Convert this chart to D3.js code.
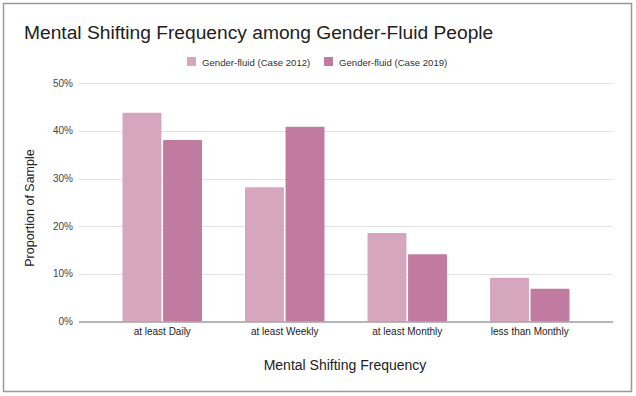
<!DOCTYPE html>
<html lang="en">
<head>
<meta charset="utf-8">
<title>Mental Shifting Frequency</title>
<script src="https://cdn.jsdelivr.net/npm/d3@7"></script>
<style>
	body { margin: 0; background: #fff; }
	svg text { font-family: Arial, "Liberation Sans", sans-serif; }
</style>
</head>
<body>
<div id="chart"></div>
<script>
// data
var categories = ["at least Daily", "at least Weekly", "at least Monthly", "less than Monthly"];
var seriesNames = ["Gender-fluid (Case 2012)", "Gender-fluid (Case 2019)"];
var case2012 = [43.8, 28.2, 18.6, 9.2];
var case2019 = [38.1, 40.9, 14.1, 6.9];
var yTicks = [0, 10, 20, 30, 40, 50];
var colors = ["#d5a6bd", "#c27ba0"];

var w = 636, h = 396;

var svg = d3.select("#chart").append("svg")
	.attr("width", w)
	.attr("height", h);

// outer frame
svg.append("rect")
	.attr("x", 3.5).attr("y", 3.5)
	.attr("width", 628).attr("height", 388)
	.attr("fill", "#fff")
	.attr("stroke", "#9a9a9a")
	.attr("stroke-width", 1.5);

var plotLeft = 79, plotRight = 613;

var x = d3.scaleBand()
	.domain(categories)
	.range([101, 591]);

var xInner = d3.scaleBand()
	.domain(seriesNames)
	.range([0, x.bandwidth()])
	.paddingInner(0.04)
	.paddingOuter(0.53);

var y = d3.scaleLinear()
	.domain([0, 50])
	.range([321.5, 83.3]);

// gridlines
svg.append("g").selectAll("line")
	.data(yTicks.slice(1))
	.enter().append("line")
	.attr("x1", plotLeft).attr("x2", plotRight)
	.attr("y1", function(d) { return Math.round(y(d)) + 0.5; })
	.attr("y2", function(d) { return Math.round(y(d)) + 0.5; })
	.attr("stroke", "#e0e0e0")
	.attr("stroke-width", 1);

// y tick labels
svg.append("g").selectAll("text")
	.data(yTicks)
	.enter().append("text")
	.attr("x", 73)
	.attr("y", function(d) { return y(d) + 3.5; })
	.attr("text-anchor", "end")
	.attr("font-size", "10px")
	.attr("fill", "#444")
	.text(function(d) { return d + "%"; });

// bars
var series = [case2012, case2019];
var groups = svg.append("g").selectAll("g")
	.data(series)
	.enter().append("g")
	.attr("fill", function(d, i) { return colors[i]; });

groups.each(function(vals, si) {
	d3.select(this).selectAll("rect")
		.data(vals)
		.enter().append("rect")
		.attr("x", function(d, i) { return x(categories[i]) + xInner(seriesNames[si]); })
		.attr("y", function(d) { return y(d); })
		.attr("width", xInner.bandwidth())
		.attr("height", function(d) { return y(0) - y(d); })
		.attr("rx", 1);
});

// baseline
svg.append("line")
	.attr("x1", plotLeft).attr("x2", plotRight)
	.attr("y1", y(0) + 0.5).attr("y2", y(0) + 0.5)
	.attr("stroke", "#9e9e9e")
	.attr("stroke-width", 1.5);

// x tick labels
svg.append("g").selectAll("text")
	.data(categories)
	.enter().append("text")
	.attr("x", function(d) { return x(d) + x.bandwidth() / 2; })
	.attr("y", 335)
	.attr("text-anchor", "middle")
	.attr("font-size", "10px")
	.attr("fill", "#222")
	.text(function(d) { return d; });

// title
svg.append("text")
	.attr("x", 24).attr("y", 39)
	.attr("font-size", "19.2px")
	.attr("fill", "#212121")
	.text("Mental Shifting Frequency among Gender-Fluid People");

// legend
var legendX = [187, 324];
var legend = svg.append("g").selectAll("g")
	.data(seriesNames)
	.enter().append("g")
	.attr("transform", function(d, i) { return "translate(" + legendX[i] + ",57)"; });
legend.append("rect")
	.attr("width", 9).attr("height", 9)
	.attr("fill", function(d, i) { return colors[i]; });
legend.append("text")
	.attr("x", 15).attr("y", 8.5)
	.attr("font-size", "9.6px")
	.attr("fill", "#333")
	.text(function(d) { return d; });

// axis titles
svg.append("text")
	.attr("x", 345).attr("y", 370)
	.attr("text-anchor", "middle")
	.attr("font-size", "14px")
	.attr("fill", "#222")
	.text("Mental Shifting Frequency");

svg.append("text")
	.attr("transform", "translate(34,208) rotate(-90)")
	.attr("text-anchor", "middle")
	.attr("font-size", "12.5px")
	.attr("fill", "#222")
	.text("Proportion of Sample");
</script>
</body>
</html>
